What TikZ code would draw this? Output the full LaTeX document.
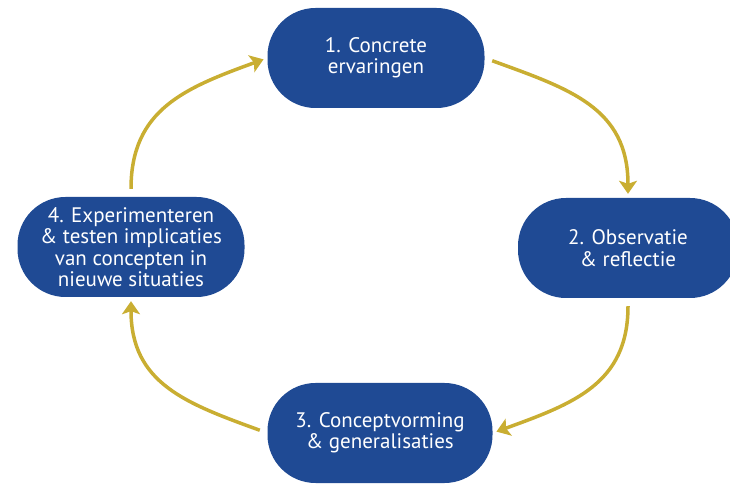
\documentclass[tikz,border=0pt]{standalone}
\usepackage{fontspec}
\setmainfont{PT Sans}
\usepackage{xcolor}
\usepackage{tikz}
\usetikzlibrary{
    positioning,
    arrows.meta
}
\definecolor{kolbBlue}{RGB}{31, 74, 148}
\definecolor{kolbGold}{RGB}{201, 174, 50}

\begin{document}
\begin{tikzpicture}[x=1pt, y=1pt,
    phase/.style={fill=kolbBlue, text=white, rounded corners=48pt, minimum height=100pt,
        align=center, font=\fontsize{21}{21.5}\selectfont, inner sep=0pt},
    cyc/.style={line width=3.5pt, kolbGold, -{Stealth[length=13pt, width=18pt, inset=3pt]},
        shorten <=8pt, shorten >=4pt, looseness=1.15}
]
            \useasboundingbox (0,0) rectangle (730,484);

            % the four phases of the cycle
            \node[phase, minimum width=217pt] (n1) at (376,426) {1. Concrete\\ervaringen};
            \node[phase, minimum width=220pt] (n2) at (628,236) {2. Observatie\\\& reflectie};
            \node[phase, minimum width=225pt] (n3) at (380,51) {3. Conceptvorming\\\& generalisaties};
            \node[phase, minimum width=227pt] (n4) at (131,237)
                {4. Experimenteren\\\& testen implicaties\\van concepten in\\nieuwe situaties};

            % arcs, clockwise
            \draw[cyc] (n1.east) to[out=-20, in=90] (n2.north);
            \draw[cyc] (n2.south) to[out=-90, in=20] (n3.east);
            \draw[cyc] (n3.west) to[out=160, in=-90] (n4.south);
            \draw[cyc] (n4.north) to[out=90, in=200] (n1.west);
        \end{tikzpicture}
\end{document}
